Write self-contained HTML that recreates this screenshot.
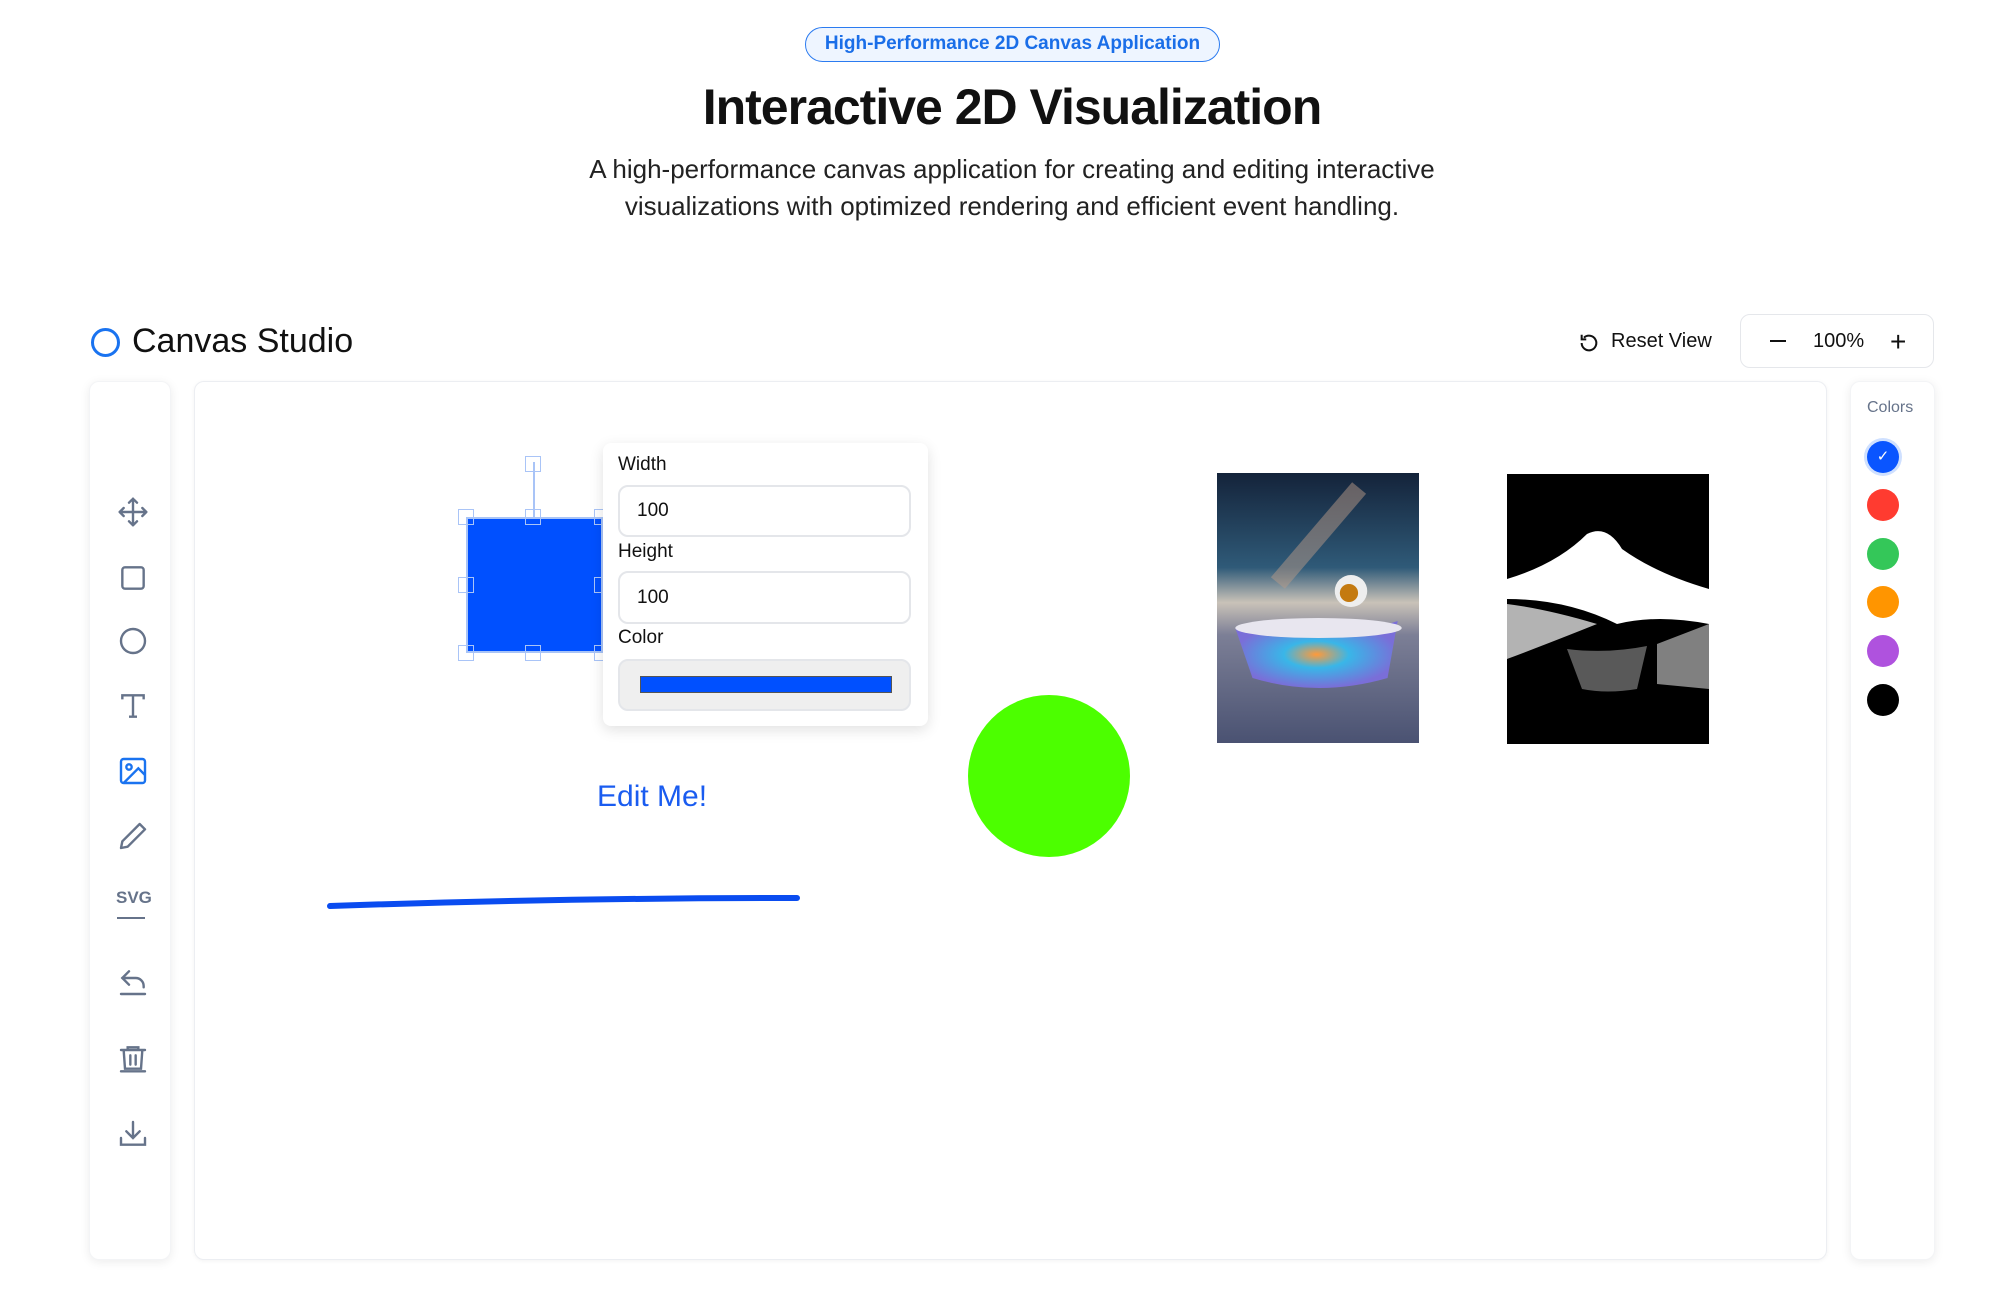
<!DOCTYPE html>
<html><head><meta charset="utf-8"><style>
*{box-sizing:border-box;margin:0;padding:0}
body{width:1990px;height:1306px;background:#fff;font-family:"Liberation Sans",sans-serif;position:relative;overflow:hidden;color:#111}
.a{position:absolute}
.badge{left:805px;top:27px;width:415px;height:35px;border:1.5px solid #2b7bf0;border-radius:18px;background:#eef5ff;color:#1a6ee8;font-weight:bold;font-size:19px;text-align:center;line-height:32px}
h1{position:absolute;left:0;width:2024px;text-align:center;top:78px;font-size:50px;font-weight:bold;letter-spacing:-1px}
.sub{left:0;width:2024px;text-align:center;top:151px;font-size:26px;line-height:37px;color:#222}
.panel{background:#fff;border-radius:10px;box-shadow:0 2px 10px rgba(0,0,0,.08);border:1px solid #eceef2}
.ic{position:absolute;left:117px;width:32px;height:32px}
.sw{position:absolute;left:1867px;width:32px;height:32px;border-radius:50%}
.h{position:absolute;width:16px;height:16px;border:1.5px solid #a9c4f7}
.inp{position:absolute;left:618px;width:293px;border:2px solid #e4e6ea;border-radius:10px;font-size:19px;padding-left:17px}
.lbl{position:absolute;left:618px;font-size:19px}
</style></head><body>
<div class="a badge">High-Performance 2D Canvas Application</div>
<h1>Interactive 2D Visualization</h1>
<div class="a sub">A high-performance canvas application for creating and editing interactive<br>visualizations with optimized rendering and efficient event handling.</div>

<div class="a" style="left:91px;top:328px;width:29px;height:29px;border:3px solid #1a73f0;border-radius:50%"></div>
<div class="a" style="left:132px;top:322px;font-size:34px;color:#111">Canvas Studio</div>
<svg class="a" style="left:1578px;top:332px" width="22" height="22" viewBox="0 0 24 24" fill="none" stroke="#111" stroke-width="2.2"><path d="M4 12a8 8 0 1 0 2.5-5.8"/><path d="M4 3v5h5"/></svg>
<div class="a" style="left:1611px;top:330px;font-size:20px">Reset View</div>
<div class="a" style="left:1740px;top:314px;width:194px;height:54px;border:1px solid #e5e7eb;border-radius:10px"></div>
<div class="a" style="left:1770px;top:340px;width:16px;height:2px;background:#111"></div>
<div class="a" style="left:1813px;top:330px;font-size:20px">100%</div>
<div class="a" style="left:1890px;top:326px;font-size:28px;font-weight:300">+</div>

<div class="a panel" style="left:89px;top:381px;width:82px;height:879px;border-color:#f3f4f6"></div>
<div class="a panel" style="left:194px;top:381px;width:1633px;height:879px;box-shadow:0 1px 4px rgba(0,0,0,.05)"></div>
<div class="a panel" style="left:1850px;top:381px;width:85px;height:879px;border-color:#f3f4f6"></div>

<svg class="ic" style="top:496px" viewBox="0 0 24 24" fill="none" stroke="#66738a" stroke-width="1.8" stroke-linecap="round" stroke-linejoin="round"><path d="M12 2v20M2 12h20M9 5l3-3 3 3M9 19l3 3 3-3M5 9l-3 3 3 3M19 9l3 3-3 3"/></svg>
<svg class="ic" style="top:562px" viewBox="0 0 24 24" fill="none" stroke="#66738a" stroke-width="1.8"><rect x="4" y="4" width="16" height="16" rx="2"/></svg>
<svg class="ic" style="top:625px" viewBox="0 0 24 24" fill="none" stroke="#66738a" stroke-width="1.8"><circle cx="12" cy="12" r="9"/></svg>
<svg class="ic" style="top:690px" viewBox="0 0 24 24" fill="none" stroke="#66738a" stroke-width="1.8"><path d="M4 7V4h16v3M12 4v16M9 20h6"/></svg>
<svg class="ic" style="top:755px" viewBox="0 0 24 24" fill="none" stroke="#1a73f0" stroke-width="1.8"><rect x="3" y="3" width="18" height="18" rx="2"/><circle cx="9" cy="9" r="2"/><path d="M21 15l-5-5L5 21"/></svg>
<svg class="ic" style="top:820px" viewBox="0 0 24 24" fill="none" stroke="#66738a" stroke-width="1.8" stroke-linejoin="round"><path d="M17 3l4 4L8 20l-5 1 1-5z"/></svg>
<div class="a" style="left:116px;top:888px;font-size:17px;font-weight:bold;color:#66738a">SVG</div>
<div class="a" style="left:117px;top:917px;width:28px;height:2px;background:#66738a"></div>
<svg class="ic" style="top:966px" viewBox="0 0 24 24" fill="none" stroke="#66738a" stroke-width="1.8" stroke-linecap="round"><path d="M9 14L4 9l5-5"/><path d="M4 9h10a6 6 0 0 1 6 6v1"/><path d="M3 21h18"/></svg>
<svg class="ic" style="top:1042px" viewBox="0 0 24 24" fill="none" stroke="#66738a" stroke-width="1.8" stroke-linecap="round"><path d="M3 6h18M8 6V4h8v2M5 6l1 14h12l1-14M10 10v7M14 10v7M3 22h18"/></svg>
<svg class="ic" style="top:1118px" viewBox="0 0 24 24" fill="none" stroke="#66738a" stroke-width="1.8" stroke-linecap="round"><path d="M12 3v12M7 10l5 5 5-5M3 15v5h18v-5"/></svg>

<div class="a" style="left:1867px;top:399px;font-size:16px;color:#66738a">Colors</div>
<div class="sw" style="top:441px;background:#0a55ff;box-shadow:0 0 0 3px #cfe0ff;color:#fff;text-align:center;line-height:32px;font-size:15px">✓</div>
<div class="sw" style="top:489px;background:#ff3b30"></div>
<div class="sw" style="top:538px;background:#34c759"></div>
<div class="sw" style="top:586px;background:#ff9500"></div>
<div class="sw" style="top:635px;background:#af52de"></div>
<div class="sw" style="top:684px;background:#000"></div>

<div class="a" style="left:466px;top:517px;width:137px;height:136px;background:#0050ff;border:2px solid #a9c4f7"></div>
<div class="a" style="left:533px;top:462px;width:1.5px;height:55px;background:#a9c4f7"></div>
<div class="h" style="left:525px;top:456px"></div>
<div class="h" style="left:458px;top:509px"></div><div class="h" style="left:525px;top:509px"></div><div class="h" style="left:594px;top:509px"></div>
<div class="h" style="left:458px;top:577px"></div><div class="h" style="left:594px;top:577px"></div>
<div class="h" style="left:458px;top:645px"></div><div class="h" style="left:525px;top:645px"></div><div class="h" style="left:594px;top:645px"></div>

<div class="a" style="left:603px;top:443px;width:325px;height:283px;background:#fff;border-radius:8px;box-shadow:0 4px 14px rgba(0,0,0,.12)"></div>
<div class="lbl" style="top:454px">Width</div>
<div class="inp" style="top:485px;height:52px;line-height:48px">100</div>
<div class="lbl" style="top:541px">Height</div>
<div class="inp" style="top:571px;height:53px;line-height:49px">100</div>
<div class="lbl" style="top:627px">Color</div>
<div class="inp" style="top:659px;height:52px;background:#efefef"></div>
<div class="a" style="left:640px;top:676px;width:252px;height:17px;background:#0050ff;border:1px solid #555"></div>

<div class="a" style="left:597px;top:780px;font-size:30px;color:#1a5cf0">Edit Me!</div>
<svg class="a" style="left:0;top:0" width="1990" height="1306"><path d="M330 906 Q560 898 797 898" stroke="#0a4cf0" stroke-width="6" fill="none" stroke-linecap="round"/><circle cx="1049" cy="776" r="81" fill="#4cff00"/></svg>

<svg class="a" style="left:1217px;top:473px" width="202" height="270" viewBox="0 0 199 270" preserveAspectRatio="none">
<defs><linearGradient id="s" x1="0" y1="0" x2="0" y2="1"><stop offset="0" stop-color="#14233a"/><stop offset=".35" stop-color="#2f5a78"/><stop offset=".48" stop-color="#c9c2b8"/><stop offset=".6" stop-color="#7c7f96"/><stop offset="1" stop-color="#4a5272"/></linearGradient>
<radialGradient id="t"><stop offset="0" stop-color="#ff9a3a"/><stop offset=".4" stop-color="#39b6e8"/><stop offset="1" stop-color="#7a6ed8"/></radialGradient></defs>
<rect width="199" height="270" fill="url(#s)"/>
<path d="M60 110 L140 15" stroke="#b79a88" stroke-width="18" opacity=".5"/>
<path d="M18 155 Q100 175 178 148 L168 205 Q100 225 35 205Z" fill="url(#t)"/>
<ellipse cx="100" cy="155" rx="82" ry="10" fill="#e8e6ef"/>
<circle cx="132" cy="118" r="16" fill="#eee"/><circle cx="130" cy="120" r="9" fill="#c47a10"/>
</svg>
<svg class="a" style="left:1507px;top:474px" width="202" height="270" viewBox="0 0 202 270">
<rect width="202" height="270" fill="#000"/>
<path d="M0 105 Q50 90 80 60 Q100 50 115 75 Q150 100 202 115 L202 150 Q150 140 110 150 Q60 125 0 125Z" fill="#fff"/>
<path d="M0 130 Q40 135 90 150 Q40 170 0 185Z" fill="#fff" opacity=".7"/>
<path d="M150 170 L202 150 L202 215 L150 210Z" fill="#fff" opacity=".5"/>
<path d="M60 175 Q100 180 140 172 L130 215 Q100 220 75 215Z" fill="#fff" opacity=".35"/>
</svg>
</body></html>
